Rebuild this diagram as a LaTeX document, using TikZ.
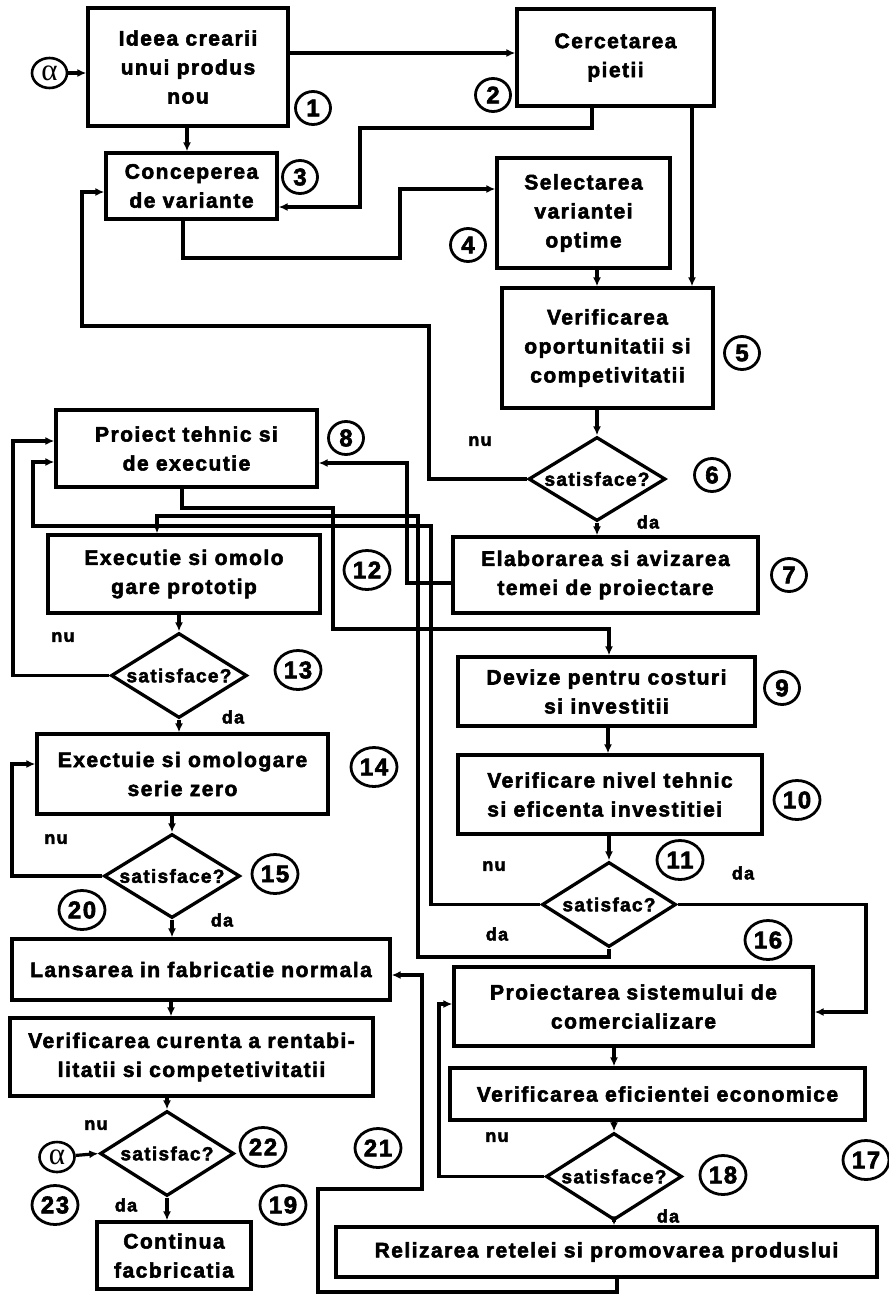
\documentclass[tikz,border=0pt]{standalone}
\usepackage{fontspec}
\usetikzlibrary{shapes.geometric,arrows.meta}
\newfontfamily\bxfam{Liberation Sans Bold}[LetterSpace=7, FakeBold=2.6]
\newfontfamily\alfam{Liberation Serif}
\newcommand\boxfont{\bxfam\fontsize{21}{29}\selectfont}
\newcommand\diafont{\bxfam\fontsize{19}{22}\selectfont}
\newcommand\ynfont{\bxfam\fontsize{18}{22}\selectfont}
\newcommand\numfont{\bxfam\fontsize{24}{26}\selectfont}
\newcommand\alfont{\alfam\fontsize{31}{31}\selectfont}
\begin{document}
\begin{tikzpicture}[x=1pt,y=-1pt,
  box/.style={draw, line width=3.3pt, inner sep=0pt, align=center, font=\boxfont},
  dia/.style={draw, diamond, line width=3.3pt, inner sep=0pt},
  dtext/.style={font=\diafont, inner sep=0pt},
  conn/.style={line width=3.2pt},
  arr/.style={conn, -{Latex[length=9pt,width=8pt]}},
  num/.style={draw, ellipse, line width=2.8pt, inner sep=0pt, minimum width=35pt, minimum height=33pt, font=\numfont},
  num2/.style={num, minimum width=46pt, minimum height=39pt},
  yn/.style={font=\ynfont, inner sep=0pt},
  alf/.style={draw, ellipse, line width=2.6pt, inner sep=0pt, minimum width=35pt, minimum height=30pt, font=\alfont}]
\useasboundingbox (0,0) rectangle (889,1294);
\fill[white] (0,0) rectangle (889,1294);

% boxes
\node[box, minimum width=200, minimum height=118] (b1) at (188,67) {Ideea crearii\\unui produs\\nou};
\node[box, minimum width=197, minimum height=97] (b2) at (615.5,57.5) {Cercetarea\\pietii};
\node[box, minimum width=171, minimum height=66] (b3) at (191.5,186) {Conceperea\\de variante};
\node[box, minimum width=173, minimum height=110] (b4) at (583.5,213) {Selectarea\\variantei\\optime};
\node[box, minimum width=211, minimum height=120] (b5) at (607.5,348) {Verificarea\\oportunitatii si\\competivitatii};
\node[dia, minimum width=137, minimum height=84, label={[dtext]center:satisface?}] (d6) at (597,479) {};
\node[box, minimum width=305, minimum height=76] (b7) at (605.5,575) {Elaborarea si avizarea\\temei de proiectare};
\node[box, minimum width=261, minimum height=77] (b8) at (186.5,448.5) {Proiect tehnic si\\de executie};
\node[box, minimum width=297, minimum height=69] (b9) at (606.5,691.5) {Devize pentru costuri\\si investitii};
\node[box, align=left, minimum width=304, minimum height=79] (b10) at (610,794.5) {Verificare nivel tehnic\\si eficenta investitiei};
\node[dia, minimum width=134, minimum height=85, label={[dtext]center:satisfac?}] (d11) at (609,904.5) {};
\node[box, minimum width=272, minimum height=78] (b12) at (184,574) {Executie si omolo\\gare prototip};
\node[dia, minimum width=136, minimum height=85, label={[dtext]center:satisface?}] (d13) at (179,675.5) {};
\node[box, minimum width=291, minimum height=80] (b14) at (182.5,774) {Exectuie si omologare\\serie zero};
\node[dia, minimum width=136, minimum height=84, label={[dtext]center:satisface?}] (d15) at (172,876) {};
\node[box, minimum width=378, minimum height=61] (b20) at (201,969.5) {Lansarea in fabricatie normala};
\node[box, minimum width=363, minimum height=78] (b21) at (191.5,1057) {Verificarea curenta a rentabi-\\litatii si competetivitatii};
\node[dia, minimum width=134, minimum height=85, label={[dtext]center:satisfac?}] (d22) at (167,1153.5) {};
\node[box, minimum width=154, minimum height=67] (b23) at (174,1255.5) {Continua\\facbricatia};
\node[box, minimum width=359, minimum height=79] (b16) at (633.5,1006.5) {Proiectarea sistemului de\\comercializare};
\node[box, minimum width=415, minimum height=52] (b17) at (657.5,1094) {Verificarea eficientei economice};
\node[dia, minimum width=136, minimum height=87, label={[dtext]center:satisface?}] (d18) at (614,1176.5) {};
\node[box, minimum width=541, minimum height=50] (b19) at (606.5,1252) {Relizarea retelei si promovarea produslui};

% alpha circles
\node[alf] (a1) at (49.5,73) {α};
\node[alf] (a2) at (57,1157) {α};

% circled numbers
\node[num] (n1) at (313,108) {1};
\node[num] (n2) at (493,95) {2};
\node[num] (n3) at (300,177) {3};
\node[num] (n4) at (468,245) {4};
\node[num] (n5) at (742,353) {5};
\node[num] (n6) at (712,475) {6};
\node[num] (n7) at (789,575) {7};
\node[num] (n8) at (346,438) {8};
\node[num] (n9) at (782,688) {9};
\node[num2] (n10) at (797,800) {10};
\node[num2] (n11) at (680,860) {11};
\node[num2] (n12) at (367,570) {12};
\node[num2] (n13) at (298,670) {13};
\node[num2] (n14) at (374,767) {14};
\node[num2] (n15) at (275,874) {15};
\node[num2] (n16) at (768,940) {16};
\node[num2] (n17) at (866,1160) {17};
\node[num2] (n18) at (723,1175) {18};
\node[num2] (n19) at (283,1205) {19};
\node[num2] (n20) at (82,910) {20};
\node[num2] (n21) at (378,1148) {21};
\node[num2] (n22) at (263,1147) {22};
\node[num2] (n23) at (55,1205) {23};

% yes / no labels
\node[yn] (nu6) at (480,441) {nu};
\node[yn] (da6) at (648,522) {da};
\node[yn] (nu13) at (63,637) {nu};
\node[yn] (da13) at (233,717) {da};
\node[yn] (nu15) at (56,839) {nu};
\node[yn] (da15) at (222,920) {da};
\node[yn] (nu11) at (494,866) {nu};
\node[yn] (da11a) at (743,873) {da};
\node[yn] (da11b) at (497,934) {da};
\node[yn] (nu18) at (497,1137) {nu};
\node[yn] (da18) at (668,1216) {da};
\node[yn] (nu22) at (96,1125) {nu};
\node[yn] (da22) at (126,1205) {da};

% connectors
\draw[arr] (a1) -- (a1 -| b1.west);
\draw[arr] (b1.east |- 0,53) -- (b2.west |- 0,53);
\draw[arr] (187,0 |- b1.south) -- (187,0 |- b3.north);
\draw[arr] (592,0 |- b2.south) |- (360,128) |- (b3.east |- 0,207);
\draw[arr] (692,0 |- b2.south) -- (692,0 |- b5.north);
\draw[arr] (183,0 |- b3.south) |- (400,258) |- (b4.west |- 0,189);
\draw[arr] (597,0 |- b4.south) -- (597,0 |- b5.north);
\draw[arr] (d6.north |- b5.south) -- (d6.north);
\draw[arr] (d6.west) -| (429,326) -| (82,192) -- (b3.west |- 0,192);
\draw[arr] (d6.south) -- (d6.south |- b7.north);
\draw[arr] (b7.west |- 0,583) -| (407,463) -- (b8.east |- 0,463);
\draw[arr] (182,0 |- b8.south) |- (333,508) |- (609,629) -- (609,0 |- b9.north);
\draw[arr] (608,0 |- b9.south) -- (608,0 |- b10.north);
\draw[arr] (d11.north |- b10.south) -- (d11.north);
\draw[arr] (d11.west) -| (431,526) -| (33,462) -- (b8.west |- 0,462);
\draw[arr] (d11.south) |- (418,957) |- (157,516) -- (157,0 |- b12.north);
\draw[arr] (d11.east) -| (866,1012) -- (b16.east |- 0,1012);
\draw[arr] (d13.north |- b12.south) -- (d13.north);
\draw[arr] (d13.west) -| (13,441) -- (b8.west |- 0,441);
\draw[arr] (d13.south) -- (d13.south |- b14.north);
\draw[arr] (d15.north |- b14.south) -- (d15.north);
\draw[arr] (d15.west) -| (12,764) -- (b14.west |- 0,764);
\draw[arr] (d15.south) -- (d15.south |- b20.north);
\draw[arr] (171,0 |- b20.south) -- (171,0 |- b21.north);
\draw[arr] (d22.north |- b21.south) -- (d22.north);
\draw[arr] (a2) -- (d22.west);
\draw[arr] (d22.south) -- (d22.south |- b23.north);
\draw[arr] (614,0 |- b16.south) -- (614,0 |- b17.north);
\draw[arr] (d18.north |- b17.south) -- (d18.north);
\draw[arr] (d18.west) -| (439,1004) -- (b16.west |- 0,1004);
\draw[arr] (d18.south) -- (d18.south |- b19.north);
\draw[arr] (617,0 |- b19.south) |- (318,1292) |- (422,1189) |- (b20.east |- 0,975);
\end{tikzpicture}
\end{document}
